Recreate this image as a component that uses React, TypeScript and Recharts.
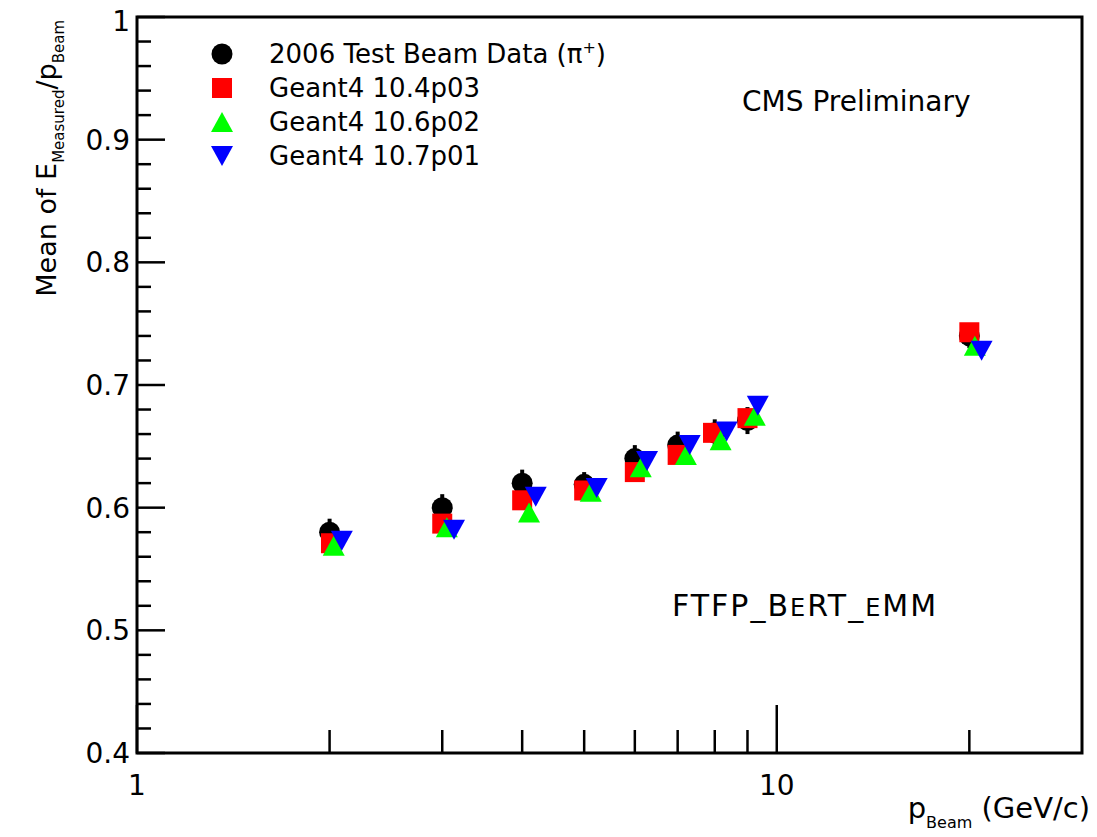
import React from 'react';
import { ScatterChart, Scatter, XAxis, YAxis, ErrorBar, ReferenceArea } from 'recharts';

// beam momenta (GeV/c) and measured response, 2006 test beam
const momenta = [2, 3, 4, 5, 6, 7, 8, 9, 20];
const dataMean = [0.580, 0.600, 0.620, 0.619, 0.640, 0.651, 0.661, 0.671, 0.740];
const dataErr = [0.011, 0.011, 0.011, 0.010, 0.011, 0.011, 0.011, 0.011, 0.010];

// Geant4 10.4p03
const g4v104P = [2.01, 3.0, 4.0, 5.0, 6.0, 7.0, 7.95, 9.0, 20.0];
const g4v104Mean = [0.571, 0.587, 0.606, 0.614, 0.629, 0.643, 0.661, 0.673, 0.743];

// Geant4 10.6p02
const g4v106P = [2.03, 3.05, 4.1, 5.12, 6.13, 7.21, 8.17, 9.24, 20.4];
const g4v106Mean = [0.569, 0.584, 0.596, 0.613, 0.633, 0.643, 0.655, 0.675, 0.732];

// Geant4 10.7p01
const g4v107P = [2.09, 3.13, 4.2, 5.23, 6.27, 7.31, 8.35, 9.34, 20.9];
const g4v107Mean = [0.573, 0.582, 0.609, 0.616, 0.638, 0.651, 0.662, 0.683, 0.728];

const xTicks = [1, 2, 3, 4, 5, 6, 7, 8, 9, 10, 20];
const xLabels = [1, 10];
const yTicks = [
  0.4, 0.42, 0.44, 0.46, 0.48, 0.5, 0.52, 0.54, 0.56, 0.58, 0.6, 0.62, 0.64, 0.66, 0.68,
  0.7, 0.72, 0.74, 0.76, 0.78, 0.8, 0.82, 0.84, 0.86, 0.88, 0.9, 0.92, 0.94, 0.96, 0.98, 1.0,
];
const yLabels = [0.4, 0.5, 0.6, 0.7, 0.8, 0.9, 1.0];

const FONT = '"DejaVu Sans", sans-serif';

const dataPoints = momenta.map((p, i) => ({ x: p, y: dataMean[i], err: dataErr[i] }));
const v104Points = g4v104P.map((p, i) => ({ x: p, y: g4v104Mean[i] }));
const v106Points = g4v106P.map((p, i) => ({ x: p, y: g4v106Mean[i] }));
const v107Points = g4v107P.map((p, i) => ({ x: p, y: g4v107Mean[i] }));

const Dot = (props: any) => <circle cx={props.cx} cy={props.cy} r={10.5} fill="#000" />;
const Square = (props: any) => (
  <rect x={props.cx - 10} y={props.cy - 10} width={20} height={20} fill="#ff0000" />
);
const TriUp = (props: any) => {
  const { cx, cy } = props;
  return <polygon points={`${cx},${cy - 10} ${cx + 11},${cy + 10} ${cx - 11},${cy + 10}`} fill="#00ff00" />;
};
const TriDown = (props: any) => {
  const { cx, cy } = props;
  return <polygon points={`${cx - 11},${cy - 10} ${cx + 11},${cy - 10} ${cx},${cy + 10}`} fill="#0000ff" />;
};

const XTick = (props: any) => {
  const { x, y, payload } = props;
  const v = payload.value;
  const major = xLabels.includes(v);
  return (
    <g>
      <line x1={x} y1={y} x2={x} y2={y - (major ? 48 : 23)} stroke="#000" strokeWidth={2.5} />
      {major && (
        <text x={x} y={y + 42} textAnchor="middle" fontSize={28} fontFamily={FONT} fill="#000">
          {v}
        </text>
      )}
    </g>
  );
};

const YTick = (props: any) => {
  const { x, y, payload } = props;
  const v = payload.value;
  const major = yLabels.some(l => Math.abs(l - v) < 1e-6);
  const top = Math.abs(v - 1) < 1e-6;
  return (
    <g>
      <line x1={x} y1={y} x2={x + (major ? 28 : 14)} y2={y} stroke="#000" strokeWidth={2.5} />
      {major && (
        <text
          x={x - 7}
          y={top ? y + 4 : y}
          dy="0.36em"
          textAnchor="end"
          fontSize={28}
          fontFamily={FONT}
          fill="#000"
        >
          {top ? '1' : v.toFixed(1)}
        </text>
      )}
    </g>
  );
};

const legendRows = [
  { label: 'Geant4 10.4p03', y: 88, shape: Square },
  { label: 'Geant4 10.6p02', y: 122, shape: TriUp },
  { label: 'Geant4 10.7p01', y: 156, shape: TriDown },
];

export default function App() {
  // svg starts at the page top (margin pulled up) so the top tick label has room
  return (
    <div style={{ position: 'relative', width: 1089, height: 829, marginTop: -8 }}>
      <ScatterChart width={1089} height={829} margin={{ top: 17, right: 15, bottom: 0, left: 0 }}>
        <XAxis
          dataKey="x"
          type="number"
          scale="log"
          domain={[1, 30]}
          ticks={xTicks}
          interval={0}
          allowDataOverflow
          height={76}
          tickSize={0}
          tickMargin={0}
          tickLine={false}
          axisLine={false}
          tick={<XTick />}
        />
        <YAxis
          dataKey="y"
          type="number"
          domain={[0.4, 1.0]}
          ticks={yTicks}
          interval={0}
          allowDataOverflow
          width={129}
          tickSize={0}
          tickMargin={0}
          tickLine={false}
          axisLine={false}
          tick={<YTick />}
        />
        <ReferenceArea x1={1} x2={30} y1={0.4} y2={1.0} fill="none" stroke="#000" strokeWidth={3} />
        <Scatter data={dataPoints} shape={<Dot />} isAnimationActive={false}>
          <ErrorBar dataKey="err" direction="y" width={0} stroke="#000" strokeWidth={4} />
        </Scatter>
        <Scatter data={v104Points} shape={<Square />} isAnimationActive={false} />
        <Scatter data={v106Points} shape={<TriUp />} isAnimationActive={false} />
        <Scatter data={v107Points} shape={<TriDown />} isAnimationActive={false} />
      </ScatterChart>

      <svg
        width={1089}
        height={829}
        style={{ position: 'absolute', left: 0, top: 0, overflow: 'visible', pointerEvents: 'none' }}
        fontFamily={FONT}
      >
        {/* legend */}
        <circle cx={214} cy={54} r={10.5} fill="#000" />
        <text x={261} y={54} dy="0.36em" fontSize={26}>
          2006 Test Beam Data (π<tspan fontSize={16} dy={-10}>+</tspan>
          <tspan dy={10}>)</tspan>
        </text>
        {legendRows.map(r => {
          const Shape = r.shape;
          return (
            <g key={r.label}>
              <Shape cx={214} cy={r.y} />
              <text x={261} y={r.y} dy="0.36em" fontSize={26}>
                {r.label}
              </text>
            </g>
          );
        })}

        <text x={734} y={111} fontSize={28}>CMS Preliminary</text>
        <text x={664} y={616} fontSize={30} letterSpacing={2}>
          FTFP_B<tspan fontSize={24}>E</tspan>RT_<tspan fontSize={24}>E</tspan>MM
        </text>

        {/* axis titles */}
        <text x={1082} y={818} textAnchor="end" fontSize={29}>
          p<tspan fontSize={16} dy={10}>Beam</tspan>
          <tspan dy={-10}> (GeV/c)</tspan>
        </text>
        <text transform="translate(48,20) rotate(-90)" textAnchor="end" fontSize={27}>
          Mean of E<tspan fontSize={15} dy={8}>Measured</tspan>
          <tspan dy={-8}>/p</tspan>
          <tspan fontSize={15} dy={8}>Beam</tspan>
        </text>
      </svg>
    </div>
  );
}
